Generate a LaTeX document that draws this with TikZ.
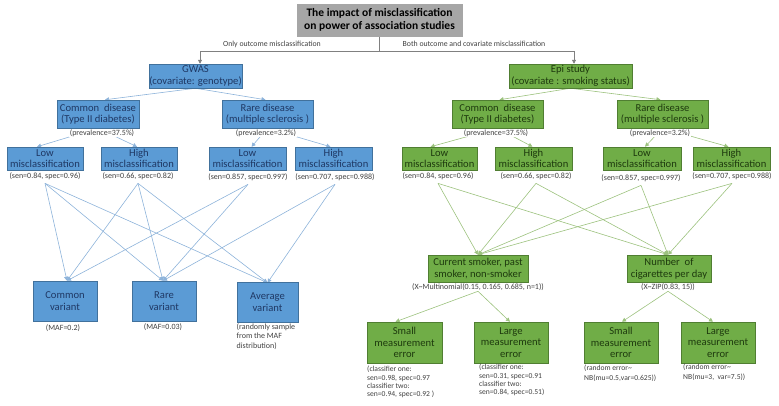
\documentclass[tikz,border=0pt]{standalone}
\usepackage{fontspec}
\setmainfont{Carlito}
\usetikzlibrary{arrows.meta,calc}
\definecolor{bfill}{HTML}{5B9BD5}
\definecolor{bdraw}{HTML}{41719C}
\definecolor{btext}{HTML}{1F3864}
\definecolor{gfill}{HTML}{70AD47}
\definecolor{gdraw}{HTML}{507E32}
\definecolor{gtext}{HTML}{1E3A0E}
\definecolor{tfill}{HTML}{A6A6A6}
\definecolor{labc}{HTML}{404040}
\definecolor{bline}{HTML}{8DB3DA}
\definecolor{gline}{HTML}{9CC27E}
\definecolor{topl}{HTML}{808080}
\pgfdeclarelayer{bg}
\pgfsetlayers{bg,main}
\tikzset{
  bbox/.style={draw=bdraw, line width=0.5pt, fill=bfill, text=btext, align=center, inner sep=0pt, font=\fontsize{10.6}{11.6}\selectfont},
  gbox/.style={draw=gdraw, line width=0.5pt, fill=gfill, text=gtext, align=center, inner sep=0pt, font=\fontsize{10.6}{11.6}\selectfont},
  tbox/.style={fill=tfill, draw=tfill, text=black, align=center, inner sep=0pt, font=\fontsize{11.5}{13.7}\selectfont\bfseries},
  lab/.style={font=\fontsize{8}{9}\selectfont, text=labc, inner sep=0.6pt, fill=white, align=center},
  labl/.style={font=\fontsize{7.6}{8.4}\selectfont, text=labc, inner sep=0pt, align=left, anchor=north west},
  tip/.style={-{Triangle[length=4pt,width=4pt]}},
  bcon/.style={draw=bline, line width=0.6pt, tip},
  gcon/.style={draw=gline, line width=0.6pt, tip},
  tcon/.style={draw=topl, line width=0.6pt},
  toplab/.style={font=\fontsize{7.8}{9}\selectfont, text=labc, inner sep=0pt},
}
\begin{document}
\begin{tikzpicture}[x=1pt,y=-1pt]
\useasboundingbox (0,0) rectangle (779,405);
% title
\node[tbox, minimum width=165pt, minimum height=32pt] (title) at (379.5,20) {The impact of misclassification\\on power of association studies};
% level 1
\node[bbox, minimum width=93pt, minimum height=24pt] (gwas) at (195.5,76) {GWAS\\(covariate: genotype)};
\node[gbox, minimum width=123pt, minimum height=24pt] (epi) at (570.5,76) {Epi study\\(covariate : smoking status)};
% level 2
\node[bbox, minimum width=82pt, minimum height=28pt] (gC) at (98,114) {Common\ \ disease\\(Type II diabetes)};
\node[bbox, minimum width=91pt, minimum height=28pt] (gR) at (267.5,114) {Rare disease\\(multiple sclerosis )};
\node[gbox, minimum width=91pt, minimum height=28pt] (eC) at (497.5,114) {Common\ \ disease\\(Type II diabetes)};
\node[gbox, minimum width=91pt, minimum height=28pt] (eR) at (662.5,114) {Rare disease\\(multiple sclerosis )};
% level 3
\node[bbox, minimum width=76pt, minimum height=23pt] (gL1) at (45,158.5) {Low\\misclassification};
\node[bbox, minimum width=76pt, minimum height=23pt] (gH1) at (139,158.5) {High\\misclassification};
\node[bbox, minimum width=77pt, minimum height=23pt] (gL2) at (247.5,158.5) {Low\\misclassification};
\node[bbox, minimum width=77pt, minimum height=23pt] (gH2) at (333.5,158.5) {High\\misclassification};
\node[gbox, minimum width=75pt, minimum height=23pt] (eL1) at (439.5,158.5) {Low\\misclassification};
\node[gbox, minimum width=77pt, minimum height=23pt] (eH1) at (533.5,158.5) {High\\misclassification};
\node[gbox, minimum width=78pt, minimum height=23pt] (eL2) at (642,158.5) {Low\\misclassification};
\node[gbox, minimum width=77pt, minimum height=23pt] (eH2) at (731.5,158.5) {High\\misclassification};
% level 4 GWAS
\node[bbox, minimum width=64pt, minimum height=40pt] (cv) at (65,301) {Common\\variant};
\node[bbox, minimum width=64pt, minimum height=40pt] (rv) at (164,301) {Rare\\variant};
\node[bbox, minimum width=61pt, minimum height=40pt] (av) at (267.5,302) {Average\\variant};
% level 4 Epi
\node[gbox, minimum width=100pt, minimum height=27pt] (cs) at (478,268.5) {Current smoker, past\\smoker, non-smoker};
\node[gbox, minimum width=84pt, minimum height=27pt] (nc) at (669,268.5) {Number\ \ of\\cigarettes per day};
% level 5 Epi
\node[gbox, minimum width=75pt, minimum height=41pt] (sm1) at (404.5,342.5) {Small\\measurement\\error};
\node[gbox, minimum width=74pt, minimum height=41pt] (lg1) at (511,342.5) {Large\\measurement\\error};
\node[gbox, minimum width=74pt, minimum height=41pt] (sm2) at (621,342.5) {Small\\measurement\\error};
\node[gbox, minimum width=74pt, minimum height=41pt] (lg2) at (718,342.5) {Large\\measurement\\error};
% labels
\node[toplab] (tl1) at (272,44) {Only outcome misclassification};
\node[toplab] (tl2) at (474,44) {Both outcome and covariate misclassification};
\node[lab] (pgC) at (102,133) {(prevalence=37.5\%)};
\node[lab] (pgR) at (266,133) {(prevalence=3.2\%)};
\node[lab] (peC) at (496,133) {(prevalence=37.5\%)};
\node[lab] (peR) at (660,133) {(prevalence=3.2\%)};
\node[lab] (sgL1) at (45,176) {(sen=0.84, spec=0.96)};
\node[lab] (sgH1) at (138,176) {(sen=0.66, spec=0.82)};
\node[lab] (sgL2) at (248,177) {(sen=0.857, spec=0.997)};
\node[lab] (sgH2) at (335,177) {(sen=0.707, spec=0.988)};
\node[lab] (seL1) at (438,176) {(sen=0.84, spec=0.96)};
\node[lab] (seH1) at (536,176) {(sen=0.66, spec=0.82)};
\node[lab] (seL2) at (641,178) {(sen=0.857, spec=0.997)};
\node[lab] (seH2) at (732,176) {(sen=0.707, spec=0.988)};
\node[lab] (mcv) at (63,328) {(MAF=0.2)};
\node[lab] (mrv) at (163,327) {(MAF=0.03)};
\node[labl, font=\fontsize{8}{9.9}\selectfont] (mav) at (236.5,323) {(randomly sample\\from the MAF\\distribution)};
\node[lab] (xcs) at (478,287) {(X\textasciitilde Multinomial(0.15, 0.165, 0.685, n=1))};
\node[lab] (xnc) at (668,287) {(X\textasciitilde ZIP(0.83, 15))};
\node[labl] (nsm1) at (367,366) {(classifier one:\\sen=0.98, spec=0.97\\classifier two:\\sen=0.94, spec=0.92 )};
\node[labl] (nlg1) at (479,364) {(classifier one:\\sen=0.31, spec=0.91\\classifier two:\\sen=0.84, spec=0.51)};
\node[labl, font=\fontsize{7.6}{10}\selectfont] (nsm2) at (584,364.5) {(random error\textasciitilde\\NB(mu=0.5,var=0.625))};
\node[labl, font=\fontsize{7.6}{10}\selectfont] (nlg2) at (683,363.5) {(random error\textasciitilde\\NB(mu=3,\ \ var=7.5))};
% connectors
\coordinate (jL) at (200,51);
\coordinate (jR) at (574,51);
\begin{pgfonlayer}{bg}
\draw[tcon] (title.south) -- (title.south |- jL);
\draw[tcon] (jL) -- (jR);
\draw[tcon, tip, {Triangle[length=4pt,width=4pt]}-] (gwas.north -| jL) -- (jL);
\draw[tcon, tip, {Triangle[length=4pt,width=4pt]}-] (epi.north -| jR) -- (jR);
% level 1 -> 2
\draw[bcon] (gwas.south) -- ([xshift=7pt]gC.north);
\draw[bcon] (gwas.south) -- ([xshift=-2pt]gR.north);
\draw[gcon] (epi.south) -- ([xshift=2pt]eC.north);
\draw[gcon] (epi.south) -- ([xshift=-2pt]eR.north);
% level 2 -> 3
\draw[bcon] (gC.south) -- ([xshift=-8pt]gL1.north);
\draw[bcon] (gC.south) -- ([xshift=-2pt]gH1.north);
\draw[bcon] (gR.south) -- ([xshift=4pt]gL2.north);
\draw[bcon] (gR.south) -- ([xshift=-3pt]gH2.north);
\draw[gcon] (eC.south) -- ([xshift=-9pt]eL1.north);
\draw[gcon] (eC.south) -- ([xshift=-1pt]eH1.north);
\draw[gcon] (eR.south) -- ([xshift=3pt]eL2.north);
\draw[gcon] (eR.south) -- ([xshift=-3pt]eH2.north);
% level 3 -> 4 GWAS
\foreach \s in {sgL1,sgH1,sgL2} \draw[bcon] ([yshift=-3pt]\s.south) -- ([xshift=2pt]cv.north);
\foreach \s in {sgL1,sgH1,sgL2,sgH2} \draw[bcon] ([yshift=-3pt]\s.south) -- ([xshift=-1pt]rv.north);
\foreach \s in {sgL1,sgH1,sgH2} \draw[bcon] ([yshift=-3pt]\s.south) -- ([yshift=-1pt]av.north);
% level 3 -> 4 Epi
\foreach \s in {seL1,seH1,seL2,seH2} {
  \draw[gcon] ([yshift=-3pt]\s.south) -- (cs.north);
  \draw[gcon] ([yshift=-3pt]\s.south) -- ([xshift=-1pt]nc.north);
}
% level 4 -> 5 Epi
\draw[gcon] (xcs.south) -- ([xshift=-9pt]sm1.north);
\draw[gcon] (xcs.south) -- ([xshift=-1pt]lg1.north);
\draw[gcon] (xnc.south) -- ([xshift=1pt]sm2.north);
\draw[gcon] (xnc.south) -- ([xshift=-5pt]lg2.north);
\end{pgfonlayer}
\end{tikzpicture}
\end{document}
